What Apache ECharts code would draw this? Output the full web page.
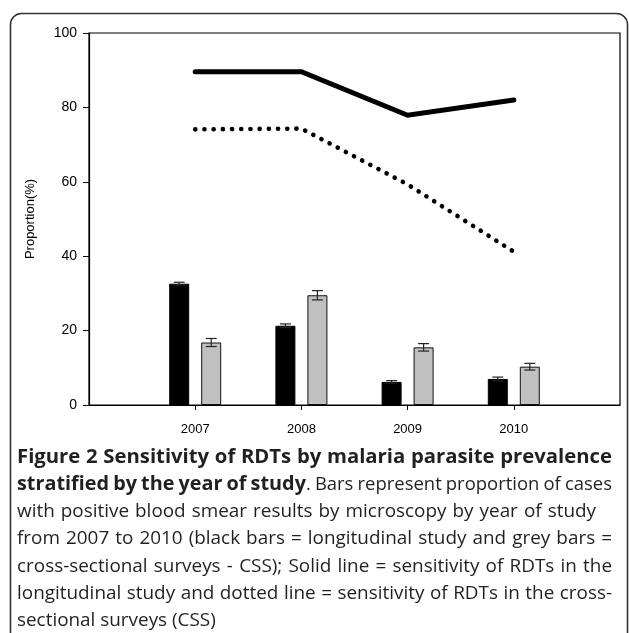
<!DOCTYPE html>
<html>
<head>
<meta charset="utf-8">
<script src="https://cdn.jsdelivr.net/npm/echarts@6/dist/echarts.min.js"></script>
<style>
html,body{margin:0;padding:0;background:#fff;}
#chart{width:629px;height:633px;}
</style>
</head>
<body>
<div id="chart"></div>
<script>
// ---- data ----
var years = [2007, 2008, 2009, 2010];
var yTicks = [0, 20, 40, 60, 80, 100];
var longitudinalBars = [32.6, 21.3, 6.2, 7.0];
var longitudinalErr = [0.4, 0.5, 0.35, 0.5];
var cssBars = [16.8, 29.5, 15.5, 10.3];
var cssErr = [1.08, 1.25, 1.0, 0.9];
var sensLongitudinal = [89.6, 89.6, 77.9, 82.0];
var sensCSS = [74.1, 74.3, 59.3, 41.2];
var yAxisTitle = 'Proportion(%)';
// caption: [bold part, regular part] per line
var captionBold = [
  'Figure 2 Sensitivity of RDTs by malaria parasite prevalence',
  'stratified by the year of study',
  '', '', '', '', ''
];
var captionRegular = [
  '',
  '. Bars represent proportion of cases',
  'with positive blood smear results by microscopy by year of study',
  'from 2007 to 2010 (black bars = longitudinal study and grey bars =',
  'cross-sectional surveys - CSS); Solid line = sensitivity of RDTs in the',
  'longitudinal study and dotted line = sensitivity of RDTs in the cross-',
  'sectional surveys (CSS)'
];

function pairs(xs, ys) { return xs.map(function (x, i) { return [x, ys[i]]; }); }
function errData(xs, ys, es) { return xs.map(function (x, i) { return [x, ys[i] - es[i], ys[i] + es[i]]; }); }

var BAR_OFFSET = 16;
function errRender(offset) {
  return function (params, api) {
    var x = api.value(0);
    var lo = api.coord([x, api.value(1)]);
    var hi = api.coord([x, api.value(2)]);
    var cx = lo[0] + offset;
    var half = 5.5;
    var st = { stroke: '#222', lineWidth: 1.2 };
    return {
      type: 'group',
      children: [
        { type: 'line', shape: { x1: cx, y1: lo[1], x2: cx, y2: hi[1] }, style: st },
        { type: 'line', shape: { x1: cx - half, y1: hi[1], x2: cx + half, y2: hi[1] }, style: st },
        { type: 'line', shape: { x1: cx - half, y1: lo[1], x2: cx + half, y2: lo[1] }, style: st }
      ]
    };
  };
}

// ---- justified caption layout ----
var REG_FONT = '18.9px "Open Sans"';
var BOLD_FONT = 'bold 20.3px "Open Sans"';
var CAP_LEFT = 17, CAP_TOP = 457, CAP_LH = 27.3;
var lineRight = [612, 612, 596, 612, 612, 612, null];
var mctx = document.createElement('canvas').getContext('2d');
function mw(text, bold) { mctx.font = bold ? BOLD_FONT : REG_FONT; return mctx.measureText(text).width; }

var captionGraphics = [];
captionBold.forEach(function (bold, li) {
  var reg = captionRegular[li];
  var tokens = [];
  bold.split(' ').filter(Boolean).forEach(function (wd) {
    tokens.push({ text: '{b|' + wd + '}', w: mw(wd, true) });
  });
  var regWords = reg.split(' ');
  if (tokens.length && reg.length && reg[0] !== ' ') {
    var first = regWords.shift();
    tokens[tokens.length - 1].text += first;
    tokens[tokens.length - 1].w += mw(first, false);
  }
  regWords.filter(Boolean).forEach(function (wd) { tokens.push({ text: wd, w: mw(wd, false) }); });
  var sum = tokens.reduce(function (a, t) { return a + t.w; }, 0);
  var space = mw(' ', false);
  var scale = 1;
  var gap = space;
  if (lineRight[li]) {
    var avail = lineRight[li] - CAP_LEFT;
    gap = (avail - sum) / (tokens.length - 1);
    if (gap < 0.85 * space) {
      gap = 0.85 * space;
      scale = avail / (sum + gap * (tokens.length - 1));
      gap *= scale;
    }
  }
  var x = CAP_LEFT;
  tokens.forEach(function (t) {
    captionGraphics.push({
      type: 'text', x: x, y: CAP_TOP + li * CAP_LH, scaleX: scale,
      style: {
        text: t.text, font: REG_FONT, fill: '#231f20', verticalAlign: 'middle',
        rich: { b: { font: BOLD_FONT, fill: '#231f20' } }
      }
    });
    x += t.w * scale + gap;
  });
});

var chart = echarts.init(document.getElementById('chart'), null, { renderer: 'canvas' });
chart.setOption({
  animation: false,
  backgroundColor: '#fff',
  grid: { left: 89, right: 9, top: 33, bottom: 228, show: true, borderColor: '#000', borderWidth: 1.2, backgroundColor: 'transparent' },
  xAxis: {
    type: 'value', min: 2006, max: 2011, interval: 1,
    axisLine: { show: true, lineStyle: { color: '#000', width: 1.2 } },
    axisTick: { show: true, length: 5, inside: false, customValues: years, lineStyle: { color: '#000' } },
    axisLabel: { customValues: years, margin: 18, color: '#000', fontFamily: 'Liberation Sans, Arial', fontSize: 13, formatter: function (v) { return String(v); } },
    splitLine: { show: false }
  },
  yAxis: {
    type: 'value', min: 0, max: 100, interval: 20,
    name: yAxisTitle, nameLocation: 'middle', nameGap: 52, nameRotate: 90,
    nameTextStyle: { color: '#000', fontFamily: 'Liberation Sans, Arial', fontSize: 13 },
    axisLine: { show: true, lineStyle: { color: '#000', width: 1.2 } },
    axisTick: { show: true, length: 6, lineStyle: { color: '#000' } },
    axisLabel: { margin: 12, color: '#000', fontFamily: 'Liberation Sans, Arial', fontSize: 14 },
    splitLine: { show: false }
  },
  graphic: [
    {
      type: 'rect', z: -1,
      shape: { x: 10.5, y: 13.5, width: 617, height: 700, r: [11, 11, 0, 0] },
      style: { fill: 'none', stroke: '#333', lineWidth: 1.6 }
    }
  ].concat(captionGraphics),
  series: [
    {
      name: 'Longitudinal', type: 'bar', data: pairs(years, longitudinalBars),
      barWidth: 20, barGap: '60%',
      itemStyle: { color: '#000', borderColor: '#000', borderWidth: 1 }
    },
    {
      name: 'CSS', type: 'bar', data: pairs(years, cssBars),
      barWidth: 20, barGap: '60%',
      itemStyle: { color: '#c0c0c0', borderColor: '#111', borderWidth: 1 }
    },
    {
      type: 'custom', renderItem: errRender(-BAR_OFFSET), data: errData(years, longitudinalBars, longitudinalErr),
      encode: { x: 0, y: [1, 2] }, z: 5
    },
    {
      type: 'custom', renderItem: errRender(BAR_OFFSET), data: errData(years, cssBars, cssErr),
      encode: { x: 0, y: [1, 2] }, z: 5
    },
    {
      name: 'Sensitivity longitudinal', type: 'line', data: pairs(years, sensLongitudinal),
      symbol: 'none', lineStyle: { color: '#000', width: 5, cap: 'round', join: 'miter' }, z: 6
    },
    {
      name: 'Sensitivity CSS', type: 'line', data: pairs(years, sensCSS),
      symbol: 'none', lineStyle: { color: '#000', width: 4.6, type: [0.1, 9.1], cap: 'round' }, z: 6
    }
  ]
});
</script>
</body>
</html>
